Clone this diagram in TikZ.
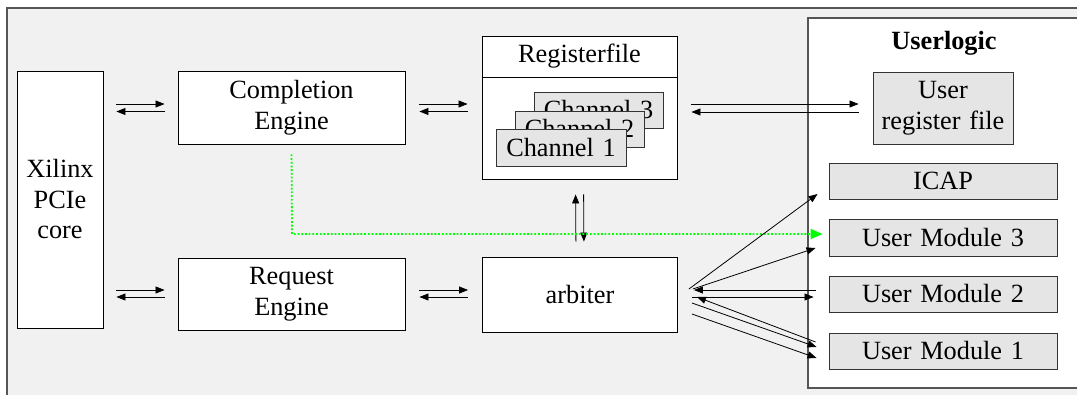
\documentclass[tikz,border=0pt]{standalone}
\usepackage{fontspec}
\setmainfont{Liberation Serif}
\usetikzlibrary{arrows.meta,calc}
\definecolor{bgfill}{HTML}{F1F1F1}
\definecolor{modfill}{HTML}{E5E5E5}
\definecolor{framecol}{HTML}{555555}
\definecolor{greenline}{HTML}{00FF00}
\newcommand\dfont{\fontsize{26.3pt}{30.5pt}\selectfont\spaceskip=0.33em plus 0.1em minus 0.05em\relax}
\tikzset{
  box/.style={draw=black, fill=white, line width=0.9pt, inner sep=0pt, align=center, font=\dfont},
  modbox/.style={draw=black!80, fill=modfill, line width=0.9pt, inner sep=0pt, align=center, font=\dfont},
  arr/.style={-{Triangle[length=9pt,width=7pt]}, line width=0.8pt},
  greenarr/.style={-{Triangle[length=12pt,width=10pt]}, draw=greenline, line width=1.8pt, dash pattern=on 1.8pt off 1.9pt},
  lbl/.style={inner sep=0pt, font=\dfont}
}
\begin{document}
\begin{tikzpicture}[x=1pt,y=-1pt]
\useasboundingbox (0,0) rectangle (1077,395);
\clip (0,0) rectangle (1077,395);
% outer frame
\draw[framecol, line width=1.5pt, fill=bgfill] (7,8) rectangle (1110,420);
% userlogic
\node[box, draw=framecol, line width=1.2pt, minimum width=282pt, minimum height=370pt] (ul) at (949,203) {};
\node[lbl, font=\dfont\bfseries] (ultitle) at (944,43) {Userlogic};
% left column
\node[box, minimum width=86pt, minimum height=257pt] (xil) at (60,199.5) {Xilinx\\PCIe\\core};
\node[box, minimum width=227pt, minimum height=73pt] (ce) at (291.5,107.5) {Completion\\Engine};
\node[box, minimum width=227pt, minimum height=72pt] (re) at (291.5,294) {Request\\Engine};
% registerfile
\node[box, minimum width=195pt, minimum height=143pt] (rf) at (579.5,107.5) {};
\node[lbl] (rftitle) at (579.5,56) {Registerfile};
\coordinate (rfdiv) at (0,77.5);
\draw[line width=0.9pt] (rf.west |- rfdiv) -- (rf.east |- rfdiv);
\node[modbox, minimum width=129pt, minimum height=36pt] (ch3) at (598.5,110) {Channel 3};
\node[modbox, minimum width=129pt, minimum height=36pt] (ch2) at (579.5,129) {Channel 2};
\node[modbox, minimum width=130pt, minimum height=37pt] (ch1) at (561,147.5) {Channel 1};
% arbiter
\node[box, minimum width=195pt, minimum height=75pt] (arb) at (580,294.5) {arbiter};
% user blocks
\node[modbox, minimum width=140pt, minimum height=72pt] (urf) at (943,108) {User\\register file};
\node[modbox, minimum width=228pt, minimum height=36pt] (icap) at (943,181) {ICAP};
\node[modbox, minimum width=228pt, minimum height=37pt] (um3) at (943,237.5) {User Module 3};
\node[modbox, minimum width=228pt, minimum height=36pt] (um2) at (943,294) {User Module 2};
\node[modbox, minimum width=228pt, minimum height=36pt] (um1) at (943,351) {User Module 1};
% paired arrows
\draw[arr, shorten <=13pt, shorten >=13pt] ($(xil.east |- ce.west)+(0,-3.5)$) -- ($(ce.west)+(0,-3.5)$);
\draw[arr, shorten <=13pt, shorten >=13pt] ($(ce.west)+(0,4)$) -- ($(xil.east |- ce.west)+(0,4)$);
\draw[arr, shorten <=14pt, shorten >=14pt] ($(ce.east)+(0,-3.5)$) -- ($(rf.west)+(0,-3.5)$);
\draw[arr, shorten <=14pt, shorten >=14pt] ($(rf.west)+(0,4)$) -- ($(ce.east)+(0,4)$);
\draw[arr, shorten <=13pt, shorten >=13pt] ($(xil.east |- re.west)+(0,-4)$) -- ($(re.west)+(0,-4)$);
\draw[arr, shorten <=13pt, shorten >=13pt] ($(re.west)+(0,3)$) -- ($(xil.east |- re.west)+(0,3)$);
\draw[arr, shorten <=14pt, shorten >=14pt] ($(re.east)+(0,-4)$) -- ($(arb.west |- re.east)+(0,-4)$);
\draw[arr, shorten <=14pt, shorten >=14pt] ($(arb.west |- re.east)+(0,3)$) -- ($(re.east)+(0,3)$);
\draw[arr, shorten <=14pt, shorten >=14pt] ($(rf.east)+(0,-3.5)$) -- ($(urf.west |- rf.east)+(0,-3.5)$);
\draw[arr, shorten <=14pt, shorten >=14pt] ($(urf.west |- rf.east)+(0,4.5)$) -- ($(rf.east)+(0,4.5)$);
% vertical arrows registerfile / arbiter
\draw[arr, shorten <=15pt, shorten >=15pt] ($(arb.north)+(-4,0)$) -- ($(rf.south)+(-4,0)$);
\draw[arr, shorten <=15pt, shorten >=15pt] ($(rf.south)+(4,0)$) -- ($(arb.north)+(4,0)$);
% green dotted
\coordinate (gcorner) at (292,234);
\draw[greenarr, shorten <=10pt, shorten >=6pt] (ce.south) -- (gcorner) -- (um3.west |- gcorner);
% fan from arbiter
\draw[arr] ($(arb.east)+(11,-5.5)$) -- ($(icap.west)+(-11,13)$);
\draw[arr] ($(arb.east)+(15,-5.5)$) -- ($(um3.west)+(-13,10.5)$);
\draw[arr] ($(um2.west)+(-13,-4)$) -- ($(arb.east)+(16,-4.5)$);
\draw[arr] ($(arb.east)+(14,2.5)$) -- ($(um2.west)+(-15,3)$);
\draw[arr] ($(um1.west)+(-13,-9)$) -- ($(arb.east)+(19,2.5)$);
\draw[arr] ($(arb.east)+(14,8.5)$) -- ($(um1.west)+(-12,-4)$);
\draw[arr] ($(arb.east)+(14,19.5)$) -- ($(um1.west)+(-12,7)$);
\end{tikzpicture}
\end{document}
